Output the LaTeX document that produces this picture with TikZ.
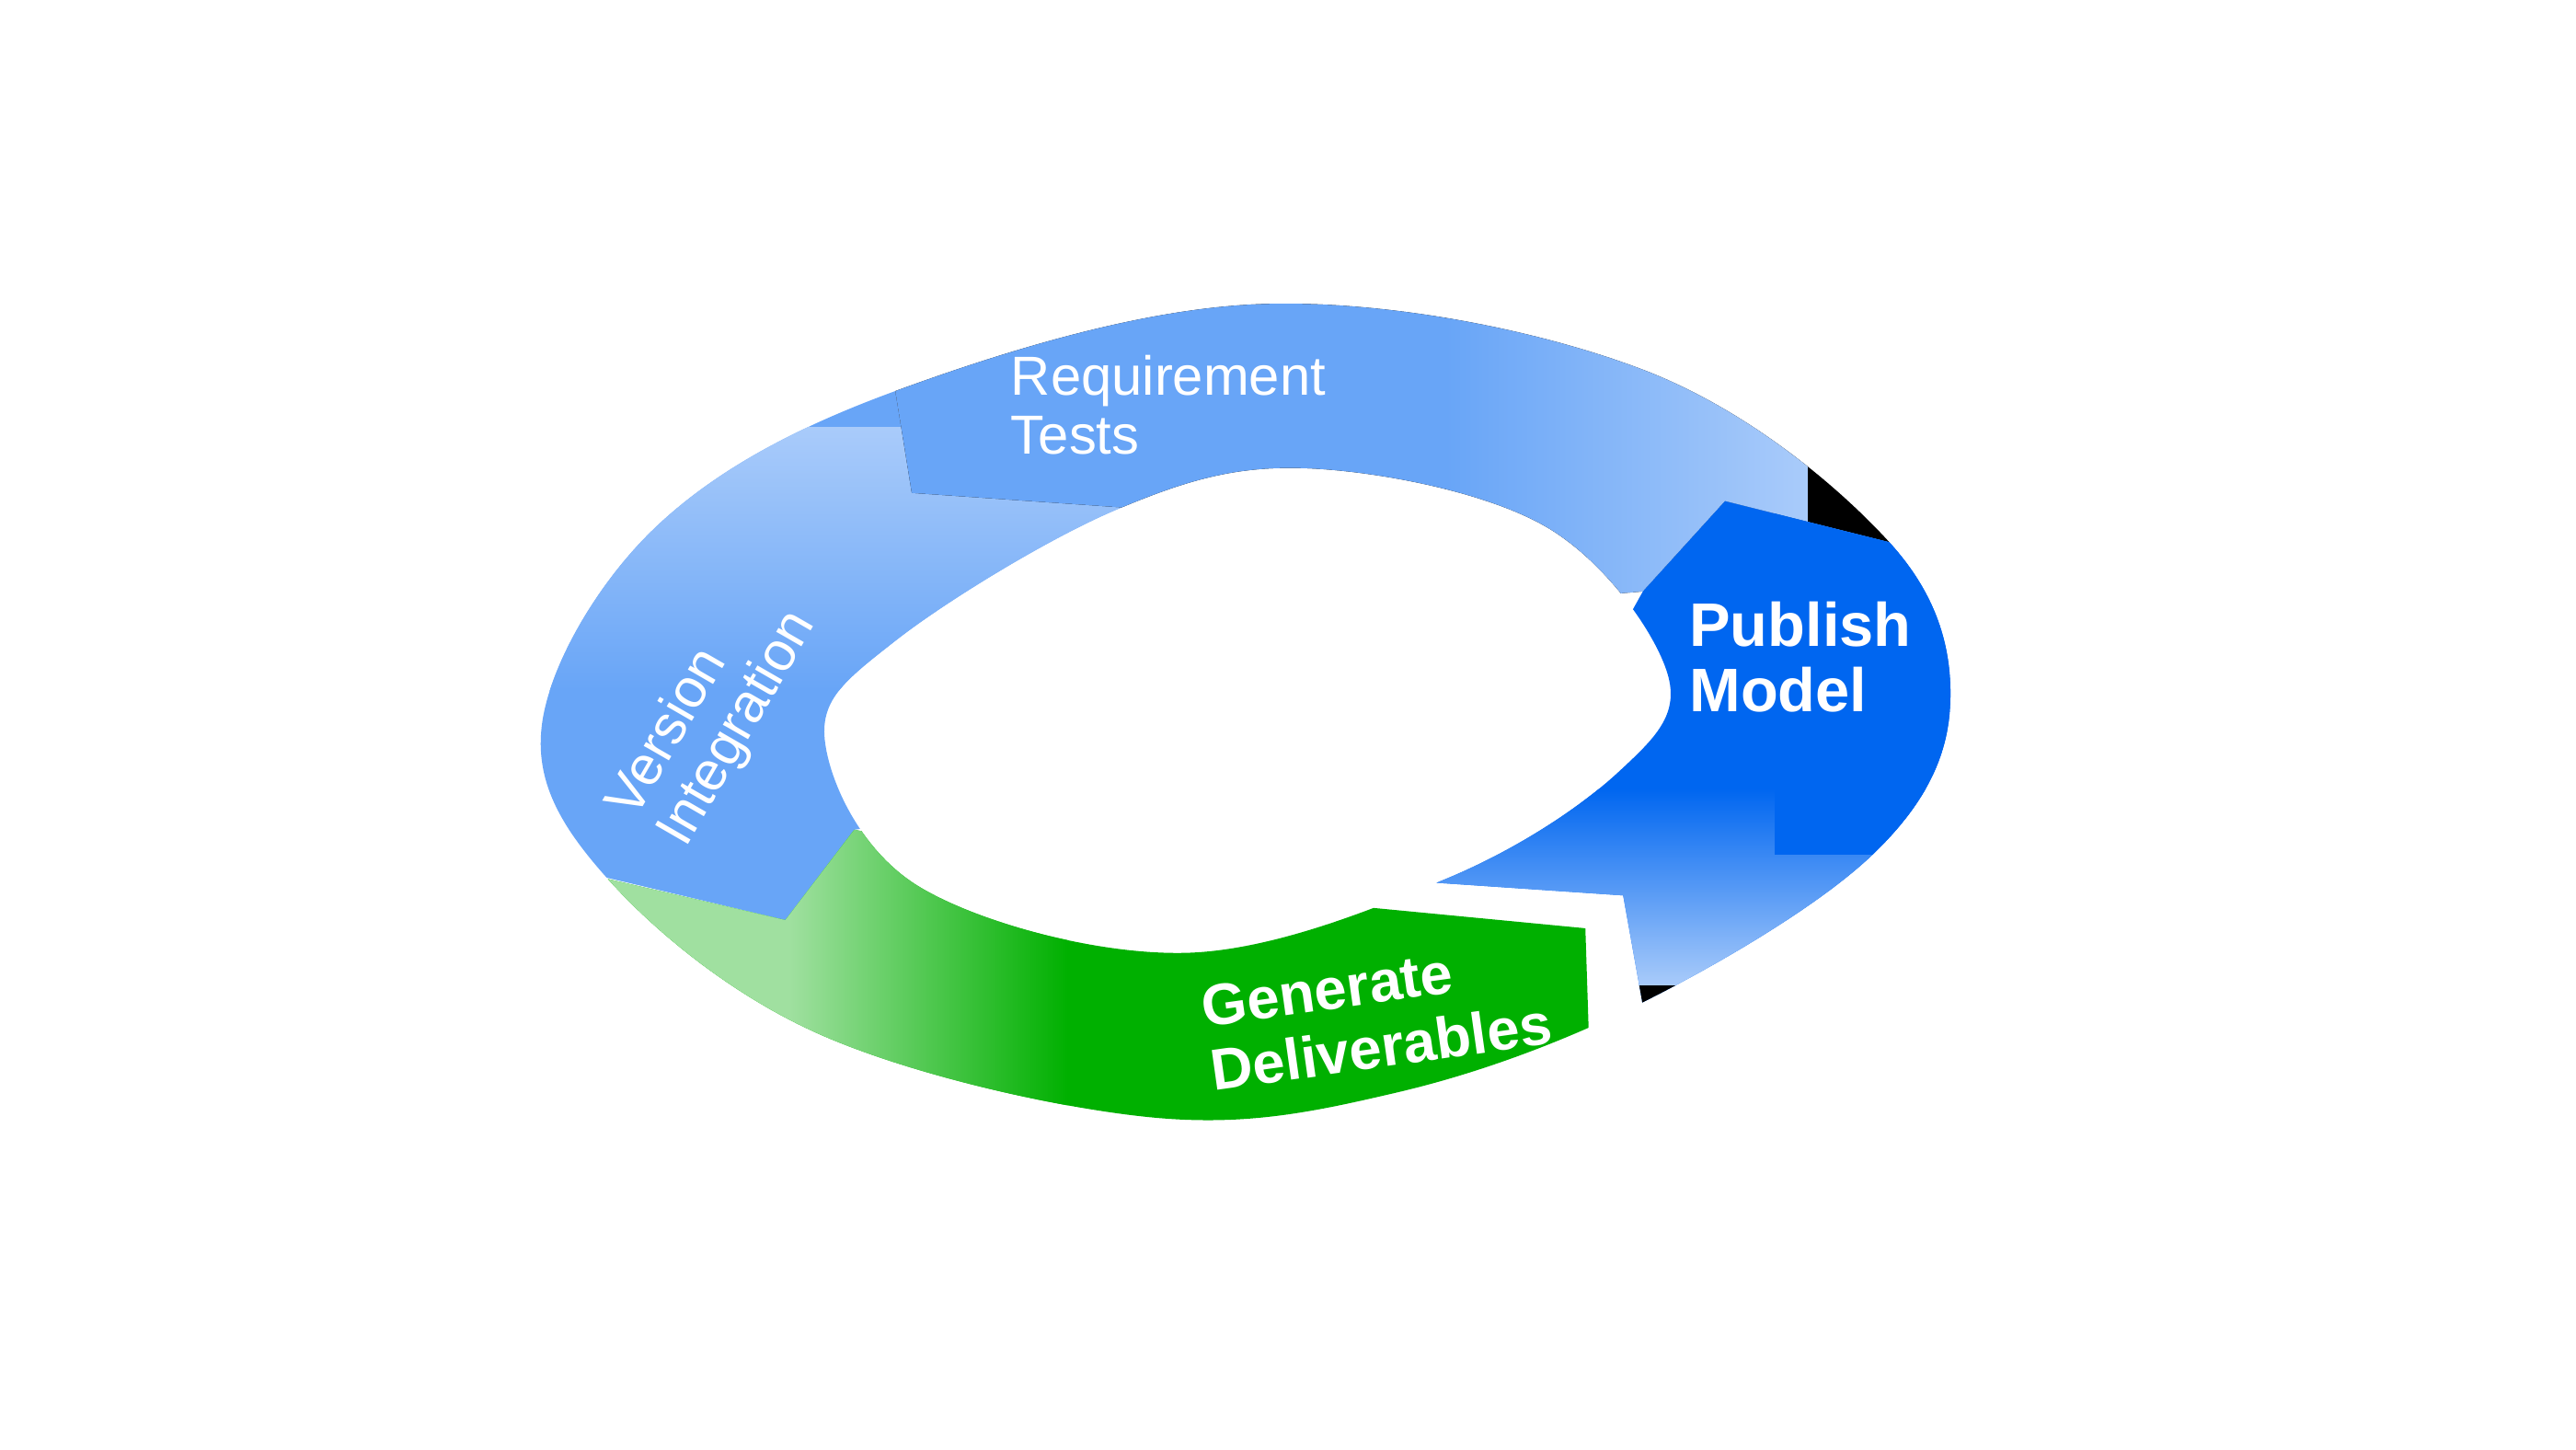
\documentclass[tikz,border=0pt]{standalone}
\usepackage{fontspec}
\setmainfont{Liberation Sans}
\begin{document}
\begin{tikzpicture}[x=0.017857cm,y=-0.017857cm,
  lbl/.style={text=white,align=left,font=\fontsize{17}{18}\selectfont,inner sep=0pt},
  blbl/.style={text=white,align=left,font=\bfseries\fontsize{19}{20}\selectfont,inner sep=0pt}]
\definecolor{lb}{HTML}{68A5F7}
\definecolor{lbl}{HTML}{A9CBFA}
\definecolor{db}{HTML}{0066F0}
\definecolor{gr}{HTML}{00B000}
\definecolor{lg}{HTML}{A0E0A0}
\useasboundingbox (0,0) rectangle (1568,882);
\fill[white] (0,0) rectangle (1568,882);
\def\ring{plot[smooth cycle,tension=0.6] coordinates{(545,238)(770,185)(1000,225)(1150,330)(1187,430)(1140,520)(1000,610)(850,665)(700,680)(500,630)(370,535)(330,440)(400,320)}
  plot[smooth cycle,tension=0.6] coordinates{(680,310)(795,285)(940,320)(1015,410)(985,470)(880,535)(720,580)(560,540)(502,450)(545,390)}}
% Version Integration
\begin{scope}[even odd rule]
 \clip \ring;
 \clip (250,100)--(538,100)--(545,238)--(555,300)--(700,310)--(700,480)--(520,505)--(478,560)--(360,532)--(250,560)--cycle;
 \fill[lb] (250,100) rectangle (700,600);
 \shade[top color=lbl,bottom color=lb] (250,260) rectangle (700,420);
\end{scope}
% Requirement Tests
\begin{scope}[even odd rule]
 \clip \ring;
 \clip (538,100)--(1250,100)--(1250,320)--(1150,330)--(1050,305)--(1000,360)--(760,380)--(700,310)--(555,300)--(545,238)--cycle;
 \fill[lbl] (500,100) rectangle (1250,400);
 \fill[lb] (500,100) rectangle (880,400);
 \shade[left color=lb,right color=lbl] (880,100) rectangle (1100,400);
\end{scope}
% Publish Model
\begin{scope}[even odd rule]
 \clip \ring;
 \clip (1250,300)--(1150,330)--(1050,305)--(1000,360)--(950,450)--(870,537)--(988,545)--(1000,612)--(1250,620)--cycle;
 \fill[db] (850,290) rectangle (1260,630);
 \shade[top color=db,bottom color=lbl] (850,480) rectangle (1260,600);
 \fill[lbl] (850,600) rectangle (1260,630);
 \fill[db] (1080,300) rectangle (1260,520);
\end{scope}
% Generate Deliverables
\begin{scope}[even odd rule]
 \clip \ring;
 \clip (370,535)--(478,560)--(520,505)--(700,540)--(840,553)--(965,565)--(970,720)--(300,720)--cycle;
 \fill[gr] (300,480) rectangle (1000,720);
 \fill[lg] (300,480) rectangle (480,720);
 \shade[left color=lg,right color=gr] (480,480) rectangle (650,720);
\end{scope}
\node[lbl,anchor=north west] (rt) at (615,216) {Requirement\\Tests};
\node[blbl,anchor=north west] (pm) at (1028,366) {Publish\\Model};
\node[lbl,rotate=60] (vi) at (434,435) {Version\\Integration};
\node[blbl,rotate=8,font=\bfseries\fontsize{18}{20}\selectfont] (gd) at (838,618) {Generate\\Deliverables};
\end{tikzpicture}
\end{document}
